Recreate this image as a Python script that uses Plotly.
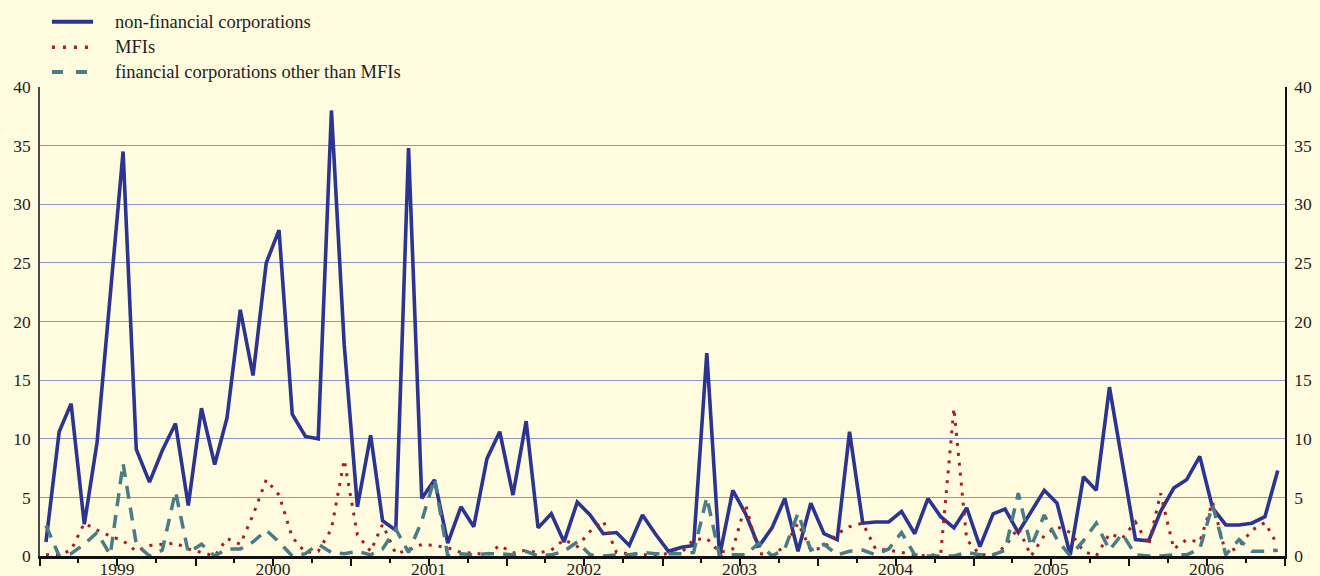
import pandas as pd
import plotly.graph_objects as go

# Monthly observations, January 1999 - December 2006 (EUR billions)
months = pd.date_range("1999-01-01", periods=96, freq="MS") + pd.Timedelta(days=14)

non_financial = [
    1.2, 10.6, 13.0, 2.7, 9.7, 22.5, 34.5, 9.1, 6.3, 9.0, 11.3, 4.3,
    12.6, 7.8, 11.8, 21.0, 15.4, 25.0, 27.8, 12.1, 10.2, 10.0, 38.0, 18.0,
    4.2, 10.3, 3.0, 2.2, 34.8, 4.9, 6.5, 1.1, 4.2, 2.5, 8.3, 10.6,
    5.2, 11.5, 2.4, 3.6, 1.2, 4.6, 3.5, 1.9, 2.0, 0.9, 3.5, 1.9,
    0.4, 0.75, 0.9, 17.3, 0.0, 5.6, 3.6, 0.8, 2.4, 4.9, 0.4, 4.5,
    1.9, 1.4, 10.6, 2.8, 2.9, 2.9, 3.8, 1.9, 4.9, 3.35, 2.4, 4.1,
    0.8, 3.6, 4.0, 2.0, 3.8, 5.6, 4.5, 0.1, 6.75, 5.6, 14.4, 7.9,
    1.4, 1.3, 3.8, 5.8, 6.5, 8.5, 4.1, 2.65, 2.65, 2.8, 3.35, 7.3,
]

mfis = [
    0.1, 0.1, 0.5, 2.8, 2.2, 1.7, 1.3, 0.4, 0.9, 1.0, 1.1, 0.6,
    0.3, 0.0, 1.5, 1.0, 3.5, 6.5, 5.2, 1.6, 0.3, 0.4, 2.3, 8.2,
    1.8, 0.4, 2.7, 0.2, 0.5, 1.0, 0.9, 0.7, 0.3, 0.25, 0.1, 0.9,
    0.25, 0.5, 0.25, 0.5, 1.4, 0.8, 2.1, 3.0, 0.3, 0.2, 0.1, 0.1,
    0.2, 0.3, 1.4, 1.5, 0.3, 0.6, 4.4, 0.2, 0.1, 0.8, 2.8, 0.5,
    0.7, 1.9, 2.5, 2.8, 0.6, 0.5, 0.3, 0.1, 0.0, 0.2, 12.6, 1.4,
    0.1, 0.1, 0.8, 2.4, 0.0, 1.75, 2.5, 2.0, 0.4, 0.0, 1.9, 1.5,
    2.9, 0.9, 5.35, 0.6, 1.4, 1.2, 4.6, 0.2, 0.8, 2.2, 2.85, 0.9,
]

other_financial = [
    2.6, 0.0, 0.2, 1.0, 2.0, 0.1, 7.9, 1.0, 0.0, 0.5, 5.5, 0.3,
    1.0, 0.0, 0.6, 0.6, 1.2, 2.2, 1.2, 0.0, 0.2, 1.0, 0.3, 0.2,
    0.4, 0.1, 0.6, 2.3, 0.3, 3.0, 6.6, 0.0, 0.2, 0.1, 0.2, 0.2,
    0.1, 0.4, 0.0, 0.1, 0.4, 1.2, 0.1, 0.0, 0.1, 0.1, 0.3, 0.2,
    0.2, 0.2, 0.3, 5.0, 0.0, 0.1, 0.1, 1.1, 0.0, 0.6, 3.65, 0.5,
    1.0, 0.1, 0.4, 0.5, 0.1, 0.6, 2.0, 0.1, 0.0, 0.0, 0.0, 0.3,
    0.1, 0.1, 0.5, 5.35, 0.8, 3.5, 1.4, 0.0, 1.3, 2.8, 0.5, 1.9,
    0.1, 0.0, 0.0, 0.1, 0.1, 0.6, 4.35, 0.1, 1.4, 0.4, 0.4, 0.5,
]

y_ticks = list(range(0, 41, 5))

# Long ticks at each half-year; the year label sits on the mid-year tick
tick_dates = pd.date_range("1999-01-01", "2007-01-01", freq="6MS")
tick_text = [str(d.year) if d.month == 7 else "" for d in tick_dates]

FONT = "Liberation Serif, Times New Roman, serif"
BG = "#FFFBDF"
TICK_FONT = dict(size=17.5, family=FONT, color="#1E1E1E")

series = [
    ("non-financial corporations", non_financial, dict(color="#2C3491", width=3.6)),
    ("MFIs", mfis, dict(color="#A41E24", width=3, dash="3px,7px")),
    ("financial corporations other than MFIs", other_financial,
     dict(color="#4A7C86", width=3.5, dash="13px,9px")),
]

fig = go.Figure()
for name, values, line in series:
    fig.add_trace(go.Scatter(x=months, y=values, name=name, mode="lines",
                             line=line, showlegend=False))
# right-hand value axis
fig.add_trace(go.Scatter(x=[], y=[], yaxis="y2", showlegend=False, hoverinfo="skip"))

# Key in the top-left corner, above the plot area
key_rows = [1.139, 1.085, 1.032]
legend_font = dict(size=18.5, family=FONT, color="#1E1E1E")
key_line = {0: dict(color="#2C3491", width=4),
            1: dict(color="#A41E24", width=3.5, dash="3px,8px"),
            2: dict(color="#4A7C86", width=4, dash="11px,13px")}
for k, ((name, _, _), yk) in enumerate(zip(series, key_rows)):
    fig.add_shape(type="line", xref="paper", yref="paper",
                  x0=0.0096, x1=0.0426, y0=yk, y1=yk, line=key_line[k])
    fig.add_annotation(text=name, xref="paper", yref="paper", x=0.0586, y=yk,
                       xanchor="left", yanchor="middle", showarrow=False,
                       font=legend_font)

fig.update_layout(
    width=1320, height=576,
    margin=dict(l=40, r=35, t=87, b=20, autoexpand=False),
    paper_bgcolor=BG, plot_bgcolor=BG,
    font=dict(family=FONT, size=17.5, color="#1E1E1E"),
    showlegend=False,
    xaxis=dict(
        type="date", range=["1999-01-01", "2007-01-01"],
        tickvals=list(tick_dates), ticktext=tick_text,
        ticks="outside", ticklen=7, tickwidth=1.5, tickcolor="#111",
        minor=dict(ticks="outside", ticklen=4, tickwidth=1.5, tickcolor="#111",
                   dtick="M3", tick0="1999-01-01", showgrid=False),
        showline=True, linecolor="#111", linewidth=2.5,
        showgrid=False, zeroline=False,
        tickfont=TICK_FONT,
        ticklabelstandoff=-12,
    ),
    yaxis=dict(
        range=[0, 40], tickvals=y_ticks, ticks="",
        showgrid=True, gridcolor="#8E95CA", gridwidth=1,
        showline=True, linecolor="#4A4A4A", linewidth=1.5,
        zeroline=False, tickfont=TICK_FONT,
        ticklabelstandoff=4,
    ),
    yaxis2=dict(
        range=[0, 40], tickvals=y_ticks, ticks="",
        overlaying="y", side="right", showgrid=False,
        showline=True, linecolor="#111", linewidth=1.5,
        zeroline=False, tickfont=TICK_FONT,
        ticklabelstandoff=4,
    ),
)

fig.write_html("out.html")
